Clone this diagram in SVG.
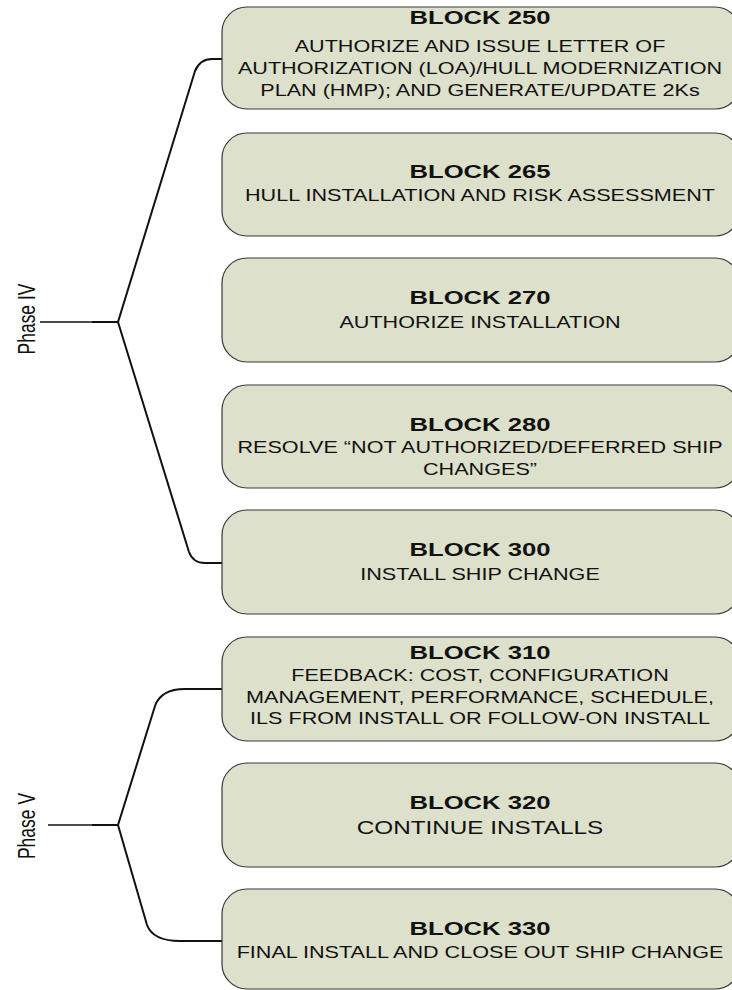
<svg xmlns="http://www.w3.org/2000/svg" width="732" height="990" viewBox="0 0 732 990">
<style>
.box{fill:#dde0cb;stroke:#3a3a3a;stroke-width:1.2}
.t{font-family:"Liberation Sans",Arial,sans-serif;fill:#111;text-anchor:middle}
.h{font-weight:bold;font-size:19px}
.b{font-size:16px}
.b2{font-size:18px}
.br{fill:none;stroke:#111;stroke-width:2}
.ld{fill:none;stroke:#111;stroke-width:1.5}
.ph{font-family:"Liberation Sans",Arial,sans-serif;font-size:17.5px;fill:#111;text-anchor:middle}
</style>
<rect width="732" height="990" fill="#fff"/>
<g id="connectors">
<line class="ld" x1="40" y1="322" x2="94" y2="322"/>
<path class="br" d="M92,322 L118,322 L195,71 Q200,59 212,59 L222,59"/>
<path class="br" d="M118,322 L189,552 Q193,563 205,563 L222,563"/>
<line class="ld" x1="48" y1="825" x2="94" y2="825"/>
<path class="br" d="M92,825 L118,825 L155,706 Q161,689 185,689 L222,689"/>
<path class="br" d="M118,825 L147,925 Q153,941 180,941 L222,941"/>
</g>
<g id="phase4"><text class="ph" transform="translate(35,319) scale(1.35,1) rotate(-90)" x="0" y="0">Phase IV</text></g>
<g id="phase5"><text class="ph" transform="translate(35,826) scale(1.35,1) rotate(-90)" x="0" y="0">Phase V</text></g>
<g id="block250">
<rect class="box" x="222" y="7" width="518" height="102" rx="25" ry="25"/>
<g class="t" transform="translate(480,0) scale(1.35,1)">
<text class="h" x="0" y="24">BLOCK 250</text>
<text class="b" x="0" y="52">AUTHORIZE AND ISSUE LETTER OF</text>
<text class="b" x="0" y="74">AUTHORIZATION (LOA)/HULL MODERNIZATION</text>
<text class="b" x="0" y="96">PLAN (HMP); AND GENERATE/UPDATE 2Ks</text>
</g>
</g>
<g id="block265">
<rect class="box" x="222" y="133" width="518" height="103" rx="25" ry="25"/>
<g class="t" transform="translate(480,0) scale(1.35,1)">
<text class="h" x="0" y="178">BLOCK 265</text>
<text class="b" x="0" y="201">HULL INSTALLATION AND RISK ASSESSMENT</text>
</g>
</g>
<g id="block270">
<rect class="box" x="222" y="258" width="518" height="104" rx="25" ry="25"/>
<g class="t" transform="translate(480,0) scale(1.35,1)">
<text class="h" x="0" y="304">BLOCK 270</text>
<text class="b" x="0" y="328">AUTHORIZE INSTALLATION</text>
</g>
</g>
<g id="block280">
<rect class="box" x="222" y="385" width="518" height="103" rx="25" ry="25"/>
<g class="t" transform="translate(480,0) scale(1.35,1)">
<text class="h" x="0" y="431">BLOCK 280</text>
<text class="b" x="0" y="453">RESOLVE “NOT AUTHORIZED/DEFERRED SHIP</text>
<text class="b" x="0" y="475">CHANGES”</text>
</g>
</g>
<g id="block300">
<rect class="box" x="222" y="510" width="518" height="104" rx="25" ry="25"/>
<g class="t" transform="translate(480,0) scale(1.35,1)">
<text class="h" x="0" y="556">BLOCK 300</text>
<text class="b" x="0" y="580">INSTALL SHIP CHANGE</text>
</g>
</g>
<g id="block310">
<rect class="box" x="222" y="637" width="518" height="104" rx="25" ry="25"/>
<g class="t" transform="translate(480,0) scale(1.35,1)">
<text class="h" x="0" y="659">BLOCK 310</text>
<text class="b" x="0" y="681">FEEDBACK: COST, CONFIGURATION</text>
<text class="b" x="0" y="703">MANAGEMENT, PERFORMANCE, SCHEDULE,</text>
<text class="b" x="0" y="724">ILS FROM INSTALL OR FOLLOW-ON INSTALL</text>
</g>
</g>
<g id="block320">
<rect class="box" x="222" y="763" width="518" height="104" rx="25" ry="25"/>
<g class="t" transform="translate(480,0) scale(1.35,1)">
<text class="h" x="0" y="809">BLOCK 320</text>
<text class="b2" x="0" y="834">CONTINUE INSTALLS</text>
</g>
</g>
<g id="block330">
<rect class="box" x="222" y="889" width="518" height="100" rx="25" ry="25"/>
<g class="t" transform="translate(480,0) scale(1.35,1)">
<text class="h" x="0" y="935">BLOCK 330</text>
<text class="b" x="0" y="958">FINAL INSTALL AND CLOSE OUT SHIP CHANGE</text>
</g>
</g>
</svg>
